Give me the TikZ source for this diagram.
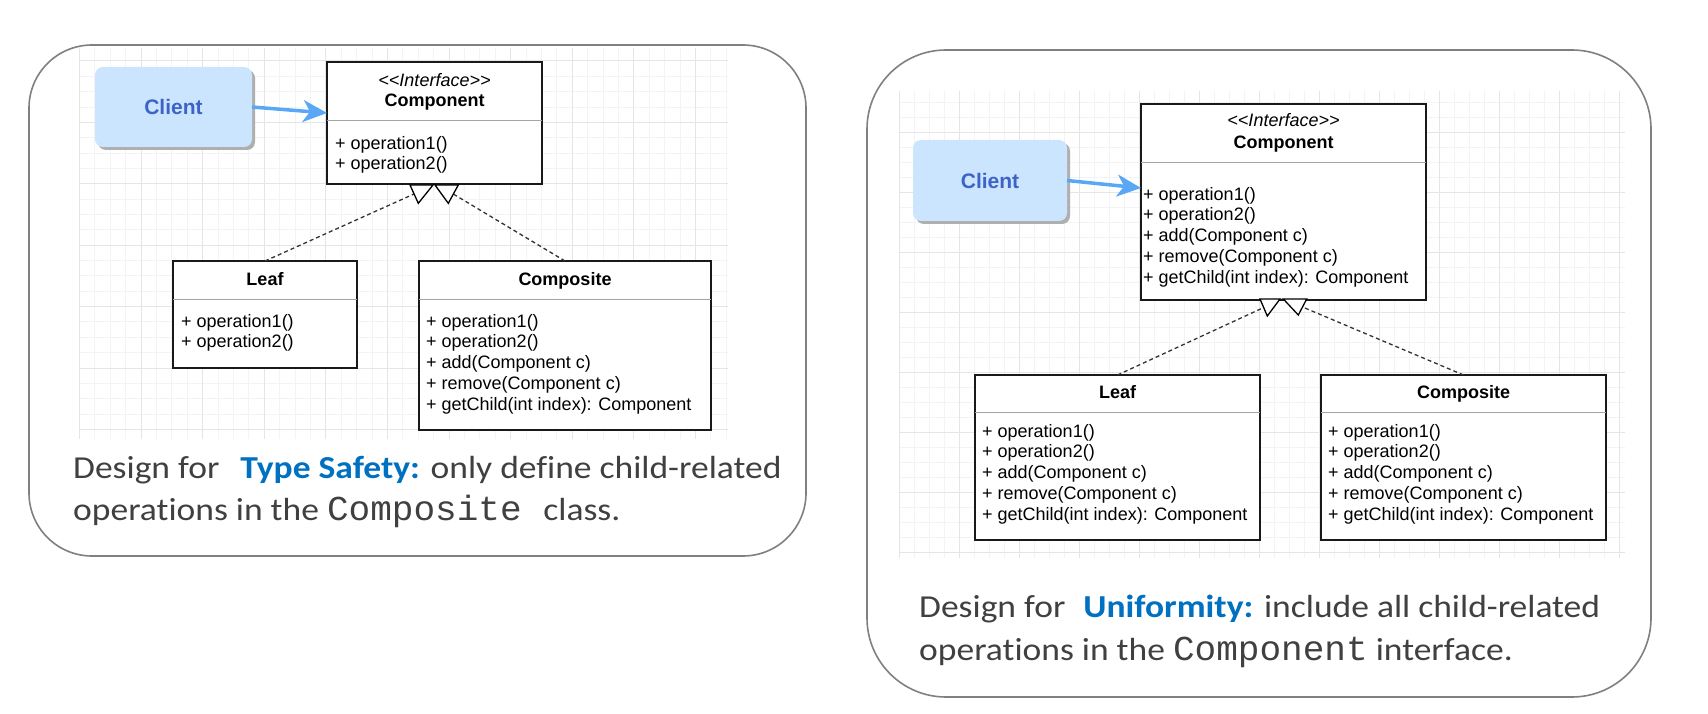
\documentclass[tikz,border=0pt]{standalone}
\usepackage{fontspec}
\setmainfont{Carlito}[FakeStretch=1.11, Ligatures={NoCommon}]
\setmonofont{Liberation Mono}[FakeStretch=1.03]
\newfontfamily\umlfont{Liberation Sans}
\usetikzlibrary{arrows.meta,calc,shadows}

\definecolor{panelgray}{RGB}{128,128,128}
\definecolor{gridminor}{RGB}{243,243,243}
\definecolor{gridmajor}{RGB}{229,229,229}
\definecolor{clientfill}{RGB}{204,229,255}
\definecolor{clienttext}{RGB}{62,99,200}
\definecolor{arrowblue}{RGB}{90,168,245}
\definecolor{capgray}{RGB}{64,64,64}
\definecolor{capblue}{RGB}{0,112,192}
\definecolor{divgray}{RGB}{165,165,165}
\definecolor{shadowgray}{RGB}{175,175,175}

\newcommand\codetxt[1]{{\fontsize{35}{38}\selectfont\ttfamily #1}}

\tikzset{
  panel/.style={draw=panelgray, line width=1.6pt},
  umlbox/.style={draw=black!90, line width=1.3pt, fill=white, anchor=north west, inner sep=0pt, outer sep=0pt},
  divider/.style={draw=divgray, line width=1pt},
  stereo/.style={anchor=base, inner sep=0pt, font=\umlfont\itshape\fontsize{18}{20}\selectfont},
  cname/.style={anchor=base, inner sep=0pt, font=\umlfont\bfseries\fontsize{18}{20}\selectfont},
  ops/.style={anchor=north west, inner sep=0pt, align=left, font=\umlfont\fontsize{18}{20.7}\selectfont},
  clientbox/.style={fill=clientfill, rounded corners=8pt, anchor=north west, inner sep=0pt, outer sep=0pt,
    text=clienttext, font=\umlfont\bfseries\fontsize{21}{24}\selectfont,
    drop shadow={shadow xshift=3pt, shadow yshift=-3pt, fill=shadowgray, opacity=1}},
  carrow/.style={draw=arrowblue, line width=3.5pt, -{Stealth[length=24pt, width=22pt, inset=7pt]}},
  realize/.style={draw=black!80, line width=1.3pt, dash pattern=on 4pt off 3pt},
  tri/.style={draw=black, line width=1.3pt, fill=white, line join=miter},
  caption/.style={anchor=base west, inner sep=0pt, text=capgray, font=\fontsize{32}{38}\selectfont},
}

\begin{document}
\begin{tikzpicture}[x=1pt, y=-1pt]
\path[fill=white, use as bounding box] (0,0) rectangle (1708,714);

% ---------- left grid ----------
\begin{scope}
  \clip (79,48) rectangle (728,439);
  \foreach \i in {0,...,42} { \draw[gridminor, line width=1pt] ({79.4+15.4*\i},48) -- ++(0,391); }
  \foreach \j in {-1,...,25} { \draw[gridminor, line width=1pt] (79,{61+15.35*\j}) -- ++(649,0); }
  \foreach \i in {0,4,...,40} { \draw[gridmajor, line width=1pt] ({79.4+15.4*\i},48) -- ++(0,391); }
  \foreach \j in {0,4,...,24} { \draw[gridmajor, line width=1pt] (79,{61+15.35*\j}) -- ++(649,0); }
\end{scope}

% ---------- right grid ----------
\begin{scope}
  \clip (899,91) rectangle (1625,558);
  \foreach \i in {0,...,48} { \draw[gridminor, line width=1pt] ({899.3+15*\i},91) -- ++(0,467); }
  \foreach \j in {-3,...,28} { \draw[gridminor, line width=1pt] (899,{132.7+15*\j}) -- ++(726,0); }
  \foreach \i in {0,4,...,48} { \draw[gridmajor, line width=1pt] ({899.3+15*\i},91) -- ++(0,467); }
  \foreach \j in {0,4,...,28} { \draw[gridmajor, line width=1pt] (899,{132.7+15*\j}) -- ++(726,0); }
\end{scope}

% ---------- panels ----------
\draw[panel, rounded corners=63pt] (29,45) rectangle (806,556);
\draw[panel, rounded corners=79pt] (867,50) rectangle (1651,697);

% =================== LEFT DIAGRAM ===================
\node[clientbox, minimum width=157pt, minimum height=80pt] (cl1) at (95,67) {Client};

\node[umlbox, minimum width=215pt, minimum height=122pt] (cc1) at (327,62) {};
\draw[divider] ($(cc1.north west)+(0,59)$) -- ($(cc1.north east)+(0,59)$);
\node[stereo] (cc1s) at (434.5,86.5) {<<Interface>>};
\node[cname] (cc1n) at (434.5,106.5) {Component};
\node[ops] (cc1o) at (335,136) {+ operation1()\\+ operation2()};

\node[umlbox, minimum width=184pt, minimum height=107pt] (lf1) at (173,261) {};
\draw[divider] ($(lf1.north west)+(0,38)$) -- ($(lf1.north east)+(0,38)$);
\node[cname] (lf1n) at (265,285) {Leaf};
\node[ops] (lf1o) at (181,314) {+ operation1()\\+ operation2()};

\node[umlbox, minimum width=292pt, minimum height=169pt] (cp1) at (419,261) {};
\draw[divider] ($(cp1.north west)+(0,38)$) -- ($(cp1.north east)+(0,38)$);
\node[cname] (cp1n) at (565,285) {Composite};
\node[ops] (cp1o) at (426,314) {+ operation1()\\+ operation2()\\+ add(Component c)\\+ remove(Component c)\\+ getChild(int index): Component};

\draw[carrow] (cl1.east) -- ([yshift=10pt]cc1.west);

\coordinate (m1) at (414,194);
\coordinate (m2) at (453.3,194);
\draw[realize] (lf1.north) -- (m1);
\draw[realize] (cp1.north) -- (m2);
\draw[tri] (410,185) -- (433,185) -- (418.3,203.3) -- cycle;
\draw[tri] (435,185) -- (458.3,185) -- (448.3,203.3) -- cycle;

\node[caption] (cap1a) at (73,478) {Design for\hspace{21pt}{\bfseries\color{capblue}Type Safety:} only define child-related};
\node[caption] (cap1b) at (73,520) {operations in the \codetxt{Composite }class.};

% =================== RIGHT DIAGRAM ===================
\node[clientbox, minimum width=154pt, minimum height=81pt] (cl2) at (913,140) {Client};

\node[umlbox, minimum width=285pt, minimum height=196pt] (cc2) at (1141,104) {};
\draw[divider] ($(cc2.north west)+(0,59)$) -- ($(cc2.north east)+(0,59)$);
\node[stereo] (cc2s) at (1283.5,127) {<<Interface>>};
\node[cname] (cc2n) at (1283.5,149) {Component};
\node[ops] (cc2o) at (1143,187) {+ operation1()\\+ operation2()\\+ add(Component c)\\+ remove(Component c)\\+ getChild(int index): Component};

\node[umlbox, minimum width=285pt, minimum height=165pt] (lf2) at (975,375) {};
\draw[divider] ($(lf2.north west)+(0,37)$) -- ($(lf2.north east)+(0,37)$);
\node[cname] (lf2n) at (1117.5,398) {Leaf};
\node[ops] (lf2o) at (982,424) {+ operation1()\\+ operation2()\\+ add(Component c)\\+ remove(Component c)\\+ getChild(int index): Component};

\node[umlbox, minimum width=285pt, minimum height=165pt] (cp2) at (1321,375) {};
\draw[divider] ($(cp2.north west)+(0,37)$) -- ($(cp2.north east)+(0,37)$);
\node[cname] (cp2n) at (1463.5,398) {Composite};
\node[ops] (cp2o) at (1328,424) {+ operation1()\\+ operation2()\\+ add(Component c)\\+ remove(Component c)\\+ getChild(int index): Component};

\draw[carrow] (cl2.east) -- ([yshift=14pt]cc2.west);

\coordinate (m3) at (1263.7,307.5);
\coordinate (m4) at (1302.5,307);
\draw[realize] (lf2.north) -- (m3);
\draw[realize] (cp2.north) -- (m4);
\draw[tri] (1260,299) -- (1280,299) -- (1267.3,316) -- cycle;
\draw[tri] (1283.3,299) -- (1306.7,299) -- (1298.3,315) -- cycle;

\node[caption] (cap2a) at (919,617) {Design for\hspace{18pt}{\bfseries\color{capblue}Uniformity:} include all child-related};
\node[caption] (cap2b) at (919,660) {operations in the \codetxt{Component} interface.};
\end{tikzpicture}
\end{document}
